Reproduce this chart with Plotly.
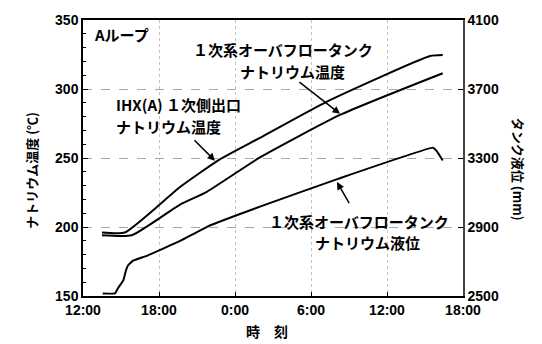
import plotly.graph_objects as go

# Elapsed hours counted from 12:00 on the first day
ihx_hours = [1.5, 3.3, 7.66, 10.8, 13.97, 19.26, 27.4, 28.4]
ihx_temp = [196, 196, 229, 249, 264.6, 290.9, 323.9, 324.6]

tank_temp_hours = [1.5, 3.85, 7.66, 9.77, 13.97, 20.29, 28.4]
tank_temp = [194, 194, 216.2, 225.5, 250.4, 281.2, 311.4]

level_hours = [1.56, 2.53, 2.76, 3.18, 3.39, 3.55, 3.95, 5.03, 7.66, 9.87,
               13.97, 20.13, 27.63, 27.9, 28.4]
tank_level = [2515, 2515, 2545, 2591, 2648, 2677, 2705, 2733, 2819, 2904,
              3018, 3179, 3360, 3343, 3286]

time_ticks = [0, 6, 12, 18, 24, 30]
time_labels = ["12:00", "18:00", "0:00", "6:00", "12:00", "18:00"]
temp_ticks = [150, 200, 250, 300, 350]
level_ticks = [2500, 2900, 3300, 3700, 4100]

JP = "Noto Sans CJK JP"
NUM = "Liberation Sans"

fig = go.Figure()
line_style = dict(color="black", width=2, shape="spline", smoothing=0.5)
fig.add_trace(go.Scatter(x=ihx_hours, y=ihx_temp, mode="lines", line=line_style))
fig.add_trace(go.Scatter(x=tank_temp_hours, y=tank_temp, mode="lines", line=line_style))
fig.add_trace(go.Scatter(x=level_hours, y=tank_level, mode="lines",
                         line=dict(line_style, smoothing=0.3), yaxis="y2"))

tick_font = dict(family=NUM, size=14, color="black", weight="bold")
fig.update_layout(
    width=542, height=344,
    margin=dict(l=83, r=79, t=15, b=48),
    paper_bgcolor="white", plot_bgcolor="white",
    showlegend=False,
    xaxis=dict(range=[0, 30], tickvals=time_ticks, ticktext=time_labels,
               showline=True, linecolor="black", linewidth=1.5, mirror=True,
               ticks="inside", ticklen=4, tickcolor="black",
               showgrid=True, gridcolor="#c4c4c4", griddash="dot", gridwidth=1,
               zeroline=False, tickfont=tick_font),
    yaxis=dict(range=[150, 350], tickvals=temp_ticks,
               showline=True, linecolor="black", linewidth=1.5,
               ticks="inside", ticklen=5, tickcolor="black",
               minor=dict(ticks="inside", dtick=10, ticklen=3, tickcolor="black", showgrid=False),
               showgrid=True, gridcolor="#a8a8a8", griddash="dash", gridwidth=1,
               zeroline=False, tickfont=tick_font),
    yaxis2=dict(range=[2500, 4100], tickvals=level_ticks, overlaying="y", side="right",
                showline=True, linecolor="#444", linewidth=1.5,
                ticks="inside", ticklen=5, tickcolor="black",
                showgrid=False, zeroline=False, tickfont=tick_font),
)

plot_w, plot_h = 542 - 83 - 79, 344 - 15 - 48


def px(x, y):
    """Page pixel position -> paper fractions of the plotting area."""
    return (x - 83) / plot_w, 1 - (y - 15) / plot_h


jp_font = dict(family=JP, size=15, color="black", weight="bold")
ann = []


def label(text, x, y, anchor="center", font=jp_font):
    fx, fy = px(x, y)
    ann.append(dict(x=fx, y=fy, xref="paper", yref="paper", text=text,
                    showarrow=False, xanchor=anchor, yanchor="middle", font=font))


label("Aループ", 92, 30, "left")
label("１次系オーバフロータンク", 283, 45)
label("ナトリウム温度", 292, 67)
label("IHX(A) １次側出口", 114, 101, "left")
label("ナトリウム温度", 114, 123, "left")
label("１次系オーバフロータンク", 359, 220)
label("ナトリウム液位", 367, 242)

# Leader arrows from the labels to their curves
for tail, head in [((16.97, 305.9), (20.29, 282.0)),
                   ((8.68, 263.9), (10.42, 248.0)),
                   ((21.08, 216.2), (20.05, 232.6))]:
    ann.append(dict(x=head[0], y=head[1], ax=tail[0], ay=tail[1],
                    xref="x", yref="y", axref="x", ayref="y", text="",
                    showarrow=True, arrowhead=2, arrowsize=1, arrowwidth=1.5,
                    arrowcolor="black"))

# Axis titles
title_font = dict(family=JP, size=13, color="black", weight="bold")
fx, fy = px(20, 168)
ann.append(dict(x=fx, y=fy, xref="paper", yref="paper", text="ナトリウム温度 (℃)",
                showarrow=False, textangle=-90, font=title_font))
fx, fy = px(530, 167)
ann.append(dict(x=fx, y=fy, xref="paper", yref="paper", text="タンク液位 (mm)",
                showarrow=False, textangle=90, font=title_font))
label("時　刻", 267, 332, font=dict(title_font, size=14))

fig.update_layout(annotations=ann)

fig.write_html("out.html")
